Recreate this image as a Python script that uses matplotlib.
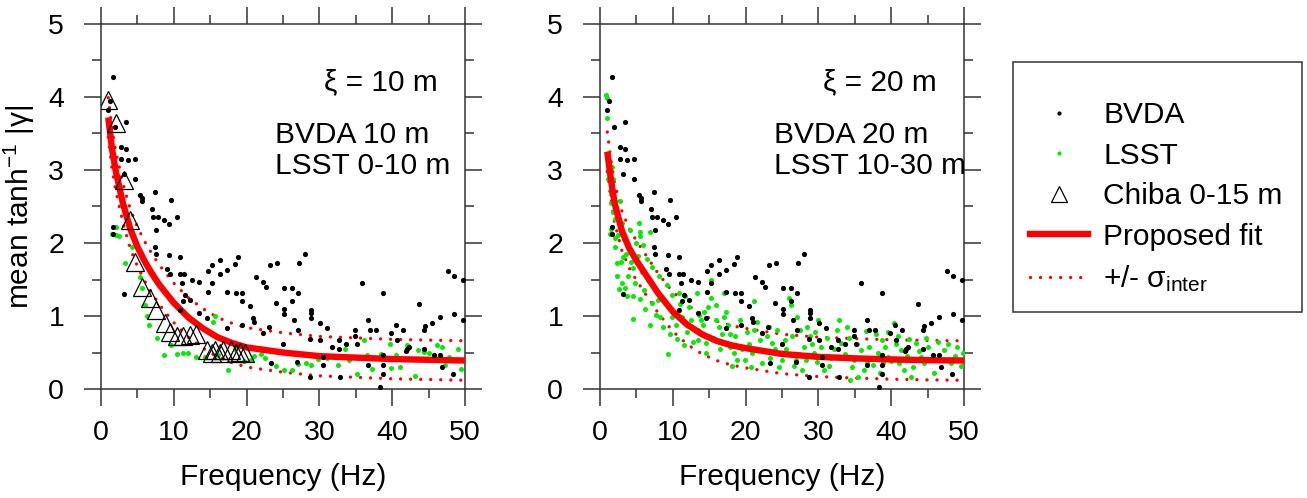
import numpy as np
import matplotlib.pyplot as plt
from matplotlib.lines import Line2D
from matplotlib.patches import Rectangle

plt.rcParams['font.family'] = ['Liberation Sans', 'DejaVu Sans']
plt.rcParams['mathtext.fontset'] = 'custom'
plt.rcParams['mathtext.rm'] = 'Liberation Sans'
plt.rcParams['mathtext.it'] = 'Liberation Sans'

# BVDA (same points in both panels), (frequency, value)
bvda = np.array([
    (1.0, 3.82), (1.2, 3.94), (1.6, 4.27), (1.9, 3.59), (3.5, 3.66), (2.8, 3.31), (3.5, 3.29), (2.8, 3.15),
    (3.75, 3.14), (4.7, 3.15), (3.1, 2.95), (4.7, 2.87), (7.4, 2.70), (5.4, 2.66), (5.6, 2.61), (5.6, 2.57),
    (9.6, 2.59), (7.0, 2.47), (7.2, 2.36), (7.8, 2.35), (8.7, 2.32), (10.5, 2.35), (9.4, 2.26), (7.6, 2.18),
    (1.6, 2.22), (1.6, 2.13), (7.4, 1.95), (7.6, 1.85), (9.4, 1.84), (10.9, 1.81), (3.2, 1.30), (9.1, 1.64),
    (9.5, 1.58), (10.9, 1.58), (11.4, 1.58), (12.5, 1.49), (13.4, 1.47), (14.7, 1.61), (15.2, 1.70), (16.4, 1.77),
    (18.4, 1.71), (18.8, 1.81), (16.3, 1.58), (17.3, 1.63), (15.3, 1.45), (17.3, 1.33), (18.5, 1.32), (19.3, 1.31),
    (19.3, 1.20), (20.4, 1.14), (21.3, 1.54), (22.3, 1.47), (22.6, 1.40), (23.2, 1.70), (24.2, 1.73), (27.2, 1.73),
    (28.0, 1.85), (25.2, 1.38), (26.2, 1.38), (27.0, 1.32), (24.1, 1.18), (25.2, 1.10), (26.2, 1.20), (25.1, 1.03),
    (26.5, 0.94), (27.1, 0.81), (28.9, 1.08), (28.9, 1.04), (28.9, 0.97), (30.1, 0.90), (31.0, 0.84), (20.9, 0.97),
    (21.0, 0.92), (17.3, 0.83), (19.3, 0.88), (22.3, 0.77), (23.1, 0.85), (14.5, 0.97), (13.5, 1.04), (11.3, 1.20),
    (10.9, 1.08), (12.2, 1.22), (11.5, 1.29), (14.7, 1.33), (11.1, 1.45), (25.0, 0.62), (23.4, 0.35), (26.9, 0.37),
    (28.7, 0.17), (30.5, 0.33), (30.5, 0.44), (32.7, 0.67), (32.7, 0.55), (32.8, 0.17), (33.7, 0.62), (34.9, 0.81),
    (34.9, 0.72), (35.9, 1.45), (36.7, 0.95), (36.9, 0.81), (36.7, 0.33), (37.8, 0.81), (38.3, 0.03), (38.8, 1.32),
    (38.8, 0.47), (38.8, 0.33), (38.8, 0.20), (39.9, 0.77), (40.5, 0.88), (40.6, 0.67), (41.5, 0.81), (41.9, 0.52),
    (42.1, 0.55), (43.7, 1.16), (44.3, 0.81), (44.5, 0.86), (45.4, 0.91), (46.5, 0.98), (46.5, 0.46), (46.8, 0.30),
    (47.7, 1.61), (48.5, 1.55), (49.7, 1.49), (48.5, 1.03), (49.7, 0.95), (48.4, 0.21), (45.8, 0.46), (44.3, 0.55),
    (42.3, 0.58), (35.1, 0.62), (31.7, 0.58), (30.1, 0.67), (28.7, 0.69),
])

# LSST 0-10 m (left panel)
lsst_10 = np.array([
    (1.5, 2.13), (2.0, 2.11), (2.5, 2.09), (3.3, 1.72), (5.4, 1.54), (5.6, 1.38), (6.6, 0.88), (8.6, 0.47),
    (10.4, 0.48), (11.3, 0.49), (13.1, 0.44), (14.3, 0.44), (17.5, 0.26), (15.4, 0.92), (15.6, 1.00), (18.4, 0.55),
    (21.0, 0.45), (22.0, 0.48), (22.5, 0.42), (23.4, 0.52), (25.2, 0.26), (26.2, 0.26), (28.1, 0.35), (28.8, 0.33),
    (32.6, 0.33), (33.5, 0.55), (35.1, 0.20), (36.1, 0.67), (36.6, 0.47), (38.4, 0.48), (39.7, 0.62), (39.9, 0.29),
    (41.1, 0.30), (42.0, 0.60), (43.1, 0.18), (43.6, 0.53), (44.3, 0.51), (46.2, 0.60), (46.9, 0.58), (47.8, 0.44),
    (49.0, 0.55), (49.5, 0.27), (6.3, 1.00), (7.7, 0.70), (9.6, 0.60), (12.0, 0.50), (16.1, 0.46), (19.6, 0.38),
    (20.6, 0.40), (24.0, 0.32), (27.0, 0.34), (29.8, 0.41), (31.1, 0.42), (34.0, 0.40), (37.2, 0.27), (40.5, 0.47),
    (45.0, 0.50), (47.3, 0.33), (2.0, 2.22), (4.2, 1.95), (6.0, 1.15),
])

# LSST 10-30 m (right panel)
lsst_20 = np.array([
    (0.8, 4.03), (1.0, 3.98), (1.0, 3.71), (1.1, 3.23), (1.2, 3.14), (1.2, 3.00), (1.1, 2.88), (1.6, 3.04),
    (1.8, 2.88), (1.5, 2.67), (2.1, 2.58), (1.5, 2.55), (1.8, 2.42), (2.1, 2.33), (2.8, 2.58), (1.5, 2.19),
    (3.0, 2.27), (5.3, 2.27), (5.5, 2.15), (6.9, 2.15), (1.4, 2.12), (2.1, 2.07), (2.5, 2.11), (2.3, 1.72),
    (2.9, 1.74), (3.1, 1.81), (3.6, 1.85), (4.3, 1.74), (4.5, 1.66), (5.5, 2.09), (5.9, 1.97), (4.9, 2.00),
    (6.4, 1.78), (7.1, 1.67), (3.5, 1.39), (2.6, 1.37), (3.7, 1.28), (4.6, 1.28), (4.6, 0.96), (5.5, 1.23),
    (6.2, 1.09), (7.1, 1.18), (6.8, 0.87), (7.7, 1.01), (9.3, 0.48), (8.3, 0.99), (9.0, 1.17), (9.9, 1.29),
    (9.9, 0.99), (10.8, 1.31), (11.0, 1.17), (11.7, 1.28), (10.4, 0.87), (11.3, 0.99), (12.5, 0.95), (12.0, 0.78),
    (13.4, 0.81), (13.9, 0.95), (13.3, 1.31), (14.9, 1.13), (15.2, 1.24), (14.3, 1.06), (15.2, 1.49), (13.4, 0.67),
    (14.5, 0.63), (15.9, 0.95), (16.4, 0.85), (16.8, 0.76), (17.0, 1.31), (17.3, 1.06), (17.1, 0.99), (17.9, 0.76),
    (17.9, 0.58), (18.4, 0.49), (18.8, 0.40), (18.1, 0.31), (19.9, 0.40), (20.8, 0.30), (20.4, 0.62), (21.1, 1.20),
    (21.1, 0.81), (22.0, 0.67), (22.5, 0.53), (22.9, 0.72), (23.6, 0.63), (23.4, 0.42), (24.3, 0.81), (25.4, 0.67),
    (25.0, 0.40), (25.9, 1.24), (26.2, 1.15), (27.1, 0.99), (27.5, 0.81), (28.0, 0.58), (26.9, 0.40), (27.8, 0.26),
    (28.5, 0.85), (28.9, 0.72), (29.4, 0.49), (29.8, 0.37), (30.3, 0.58), (30.8, 0.26), (32.8, 0.95), (32.6, 0.81),
    (33.1, 0.63), (32.6, 0.44), (31.7, 0.42), (34.4, 0.12), (35.4, 0.17), (34.9, 0.40), (35.8, 0.53), (36.7, 0.35),
    (36.3, 0.26), (38.2, 0.49), (38.7, 0.67), (38.9, 0.35), (39.6, 0.44), (40.4, 0.90), (40.9, 0.72), (41.3, 0.53),
    (41.1, 0.35), (41.8, 0.26), (42.7, 0.17), (43.4, 0.63), (44.1, 0.44), (44.5, 0.35), (45.0, 0.58), (46.4, 0.65),
    (47.3, 0.53), (48.2, 0.35), (48.4, 0.21), (49.1, 0.58), (49.6, 0.31), (2.0, 1.95), (2.4, 1.55), (3.0, 1.45),
    (3.3, 2.05), (3.9, 1.55), (4.1, 2.18), (4.8, 1.45), (5.2, 1.82), (5.8, 1.60), (6.0, 1.35), (6.6, 1.50),
    (7.4, 1.40), (7.9, 1.22), (8.1, 1.55), (8.6, 0.85), (9.2, 1.42), (9.6, 0.75), (10.2, 1.05), (10.6, 0.68),
    (11.5, 0.60), (12.2, 1.12), (12.8, 0.65), (13.6, 1.02), (14.1, 0.88), (14.6, 0.50), (15.5, 0.70), (16.0, 1.15),
    (16.5, 0.55), (17.6, 0.88), (18.6, 0.72), (19.2, 0.95), (19.5, 0.55), (20.2, 0.78), (20.9, 0.50), (21.6, 0.92),
    (22.3, 0.35), (23.2, 0.85), (24.0, 0.55), (24.6, 0.30), (25.6, 0.55), (26.4, 0.72), (27.3, 0.48), (28.3, 0.40),
    (29.1, 0.62), (29.6, 0.78), (30.6, 0.45), (31.2, 0.70), (31.5, 0.32), (32.1, 0.55), (33.6, 0.48), (34.2, 0.70),
    (34.6, 0.30), (35.3, 0.62), (36.0, 0.42), (36.9, 0.58), (37.5, 0.33), (37.9, 0.75), (38.5, 0.22), (39.2, 0.58),
    (40.0, 0.38), (40.7, 0.62), (42.2, 0.45), (42.5, 0.68), (43.0, 0.30), (43.8, 0.52), (45.5, 0.40), (45.9, 0.22),
    (46.8, 0.40), (47.8, 0.62), (48.8, 0.45), (49.8, 0.50), (44.8, 0.70), (39.5, 0.78), (36.5, 0.80), (33.9, 0.85),
    (30.0, 0.95), (26.7, 0.32),
])

# Chiba 0-15 m (left panel only)
chiba = np.array([
    (1.0, 3.96), (2.1, 3.64), (3.1, 2.86), (4.0, 2.32), (4.7, 1.74), (5.6, 1.40), (6.7, 1.24), (7.6, 1.08),
    (8.8, 0.90), (9.5, 0.78), (10.4, 0.72), (11.3, 0.72), (12.2, 0.74), (13.1, 0.76), (14.5, 0.53), (15.2, 0.50),
    (15.7, 0.53), (16.3, 0.50), (16.8, 0.53), (17.9, 0.53), (18.5, 0.50), (19.1, 0.51), (19.8, 0.49),
])

# proposed fit
fit_f = [1, 1.5, 2, 3, 4, 5, 6, 7, 8, 10, 12, 14, 16, 18, 20, 25, 30, 35, 40, 45, 50]
fit_10 = [3.72, 3.30, 3.00, 2.55, 2.20, 1.95, 1.75, 1.58, 1.43, 1.18, 0.98, 0.83, 0.71, 0.63, 0.57,
          0.50, 0.45, 0.43, 0.41, 0.40, 0.39]
fit_20 = [3.25, 2.87, 2.55, 2.17, 1.93, 1.76, 1.61, 1.46, 1.31, 1.06, 0.88, 0.75, 0.66, 0.60, 0.56,
          0.48, 0.44, 0.42, 0.405, 0.395, 0.39]
sigma_inter = 0.27

panels = [
    (fit_10, lsst_10, True, 'ξ = 10 m', 'BVDA 10 m\nLSST 0-10 m'),
    (fit_20, lsst_20, False, 'ξ = 20 m', 'BVDA 20 m\nLSST 10-30 m'),
]

W, H = 1307, 498
fig = plt.figure(figsize=(W / 100, H / 100), dpi=100)
spine_c = '#333333'
green = '#00ee00'

for i, (fit, lsst, show_chiba, xi_txt, info_txt) in enumerate(panels):
    x0 = [101, 600][i]
    ax = fig.add_axes([x0 / W, 1 - 389 / H, 364 / W, 365 / H])
    fit = np.array(fit)
    for s in (1, -1):
        ax.plot(fit_f, fit + s * sigma_inter, color='red', lw=2.4, dashes=(0.01, 3.0),
                dash_capstyle='round', zorder=2)
    ax.scatter(lsst[:, 0], lsst[:, 1], s=13, color=green, linewidths=0, zorder=3)
    ax.plot(fit_f, fit, color='red', lw=4.6, solid_capstyle='butt', zorder=4)
    ax.scatter(bvda[:, 0], bvda[:, 1], s=14, color='black', linewidths=0, zorder=5, clip_on=False)
    if show_chiba:
        ax.plot(chiba[:, 0], chiba[:, 1], ls='none', marker='^', ms=13, mfc='none',
                mec='black', mew=0.9, zorder=6)

    ax.text(46.2, 4.2, xi_txt, ha='right', va='center', fontsize=21.5)
    ax.text(23.9, 3.27, info_txt, ha='left', va='center', fontsize=21.5, linespacing=1.15)

    ax.set_xlim(0, 50)
    ax.set_ylim(0, 5)
    ax.set_xticks(range(0, 51, 10))
    ax.set_xticks(range(5, 50, 10), minor=True)
    ax.set_yticks(range(0, 6))
    ax.set_yticks(np.arange(0.5, 5, 1.0), minor=True)
    ax.tick_params(which='both', direction='out', top=True, right=True, color=spine_c, width=1.1)
    ax.tick_params(which='major', length=12.5)
    ax.tick_params(which='minor', length=6.5)
    ax.tick_params(axis='y', labelsize=20.5, pad=14)
    ax.tick_params(axis='x', labelsize=20.5, pad=10)
    for sp in ax.spines.values():
        sp.set_color(spine_c)
        sp.set_linewidth(1.1)
    ax.set_xlabel('Frequency (Hz)', fontsize=21.5, labelpad=12)
    if i == 0:
        ax.set_ylabel(r'mean tanh$^{-1}$ |γ|', fontsize=21.5, labelpad=8)

# legend
handles = [
    Line2D([], [], ls='none', marker='o', ms=3, color='black', mew=0),
    Line2D([], [], ls='none', marker='o', ms=3, color=green, mew=0),
    Line2D([], [], ls='none', marker='^', ms=12, mfc='none', mec='black', mew=0.9),
    Line2D([], [], color='red', lw=4.6),
    Line2D([], [], color='red', lw=2.4, dashes=(0.01, 3.0), dash_capstyle='round'),
]
labels = ['BVDA', 'LSST', 'Chiba 0-15 m', 'Proposed fit', r'+/- $\sigma_{\rm inter}$']
fig.legend(handles, labels, loc='upper left', bbox_to_anchor=(1030 / W, 1 - 101 / H),
           frameon=False, fontsize=21.5, borderpad=0, borderaxespad=0,
           handlelength=1.95, handletextpad=0.5, labelspacing=0.42)
fig.add_artist(Rectangle((1013 / W, 1 - 312 / H), 289 / W, 250 / H, transform=fig.transFigure,
                         fill=False, ec=spine_c, lw=1.1))

fig.savefig('out.png', dpi=100)
